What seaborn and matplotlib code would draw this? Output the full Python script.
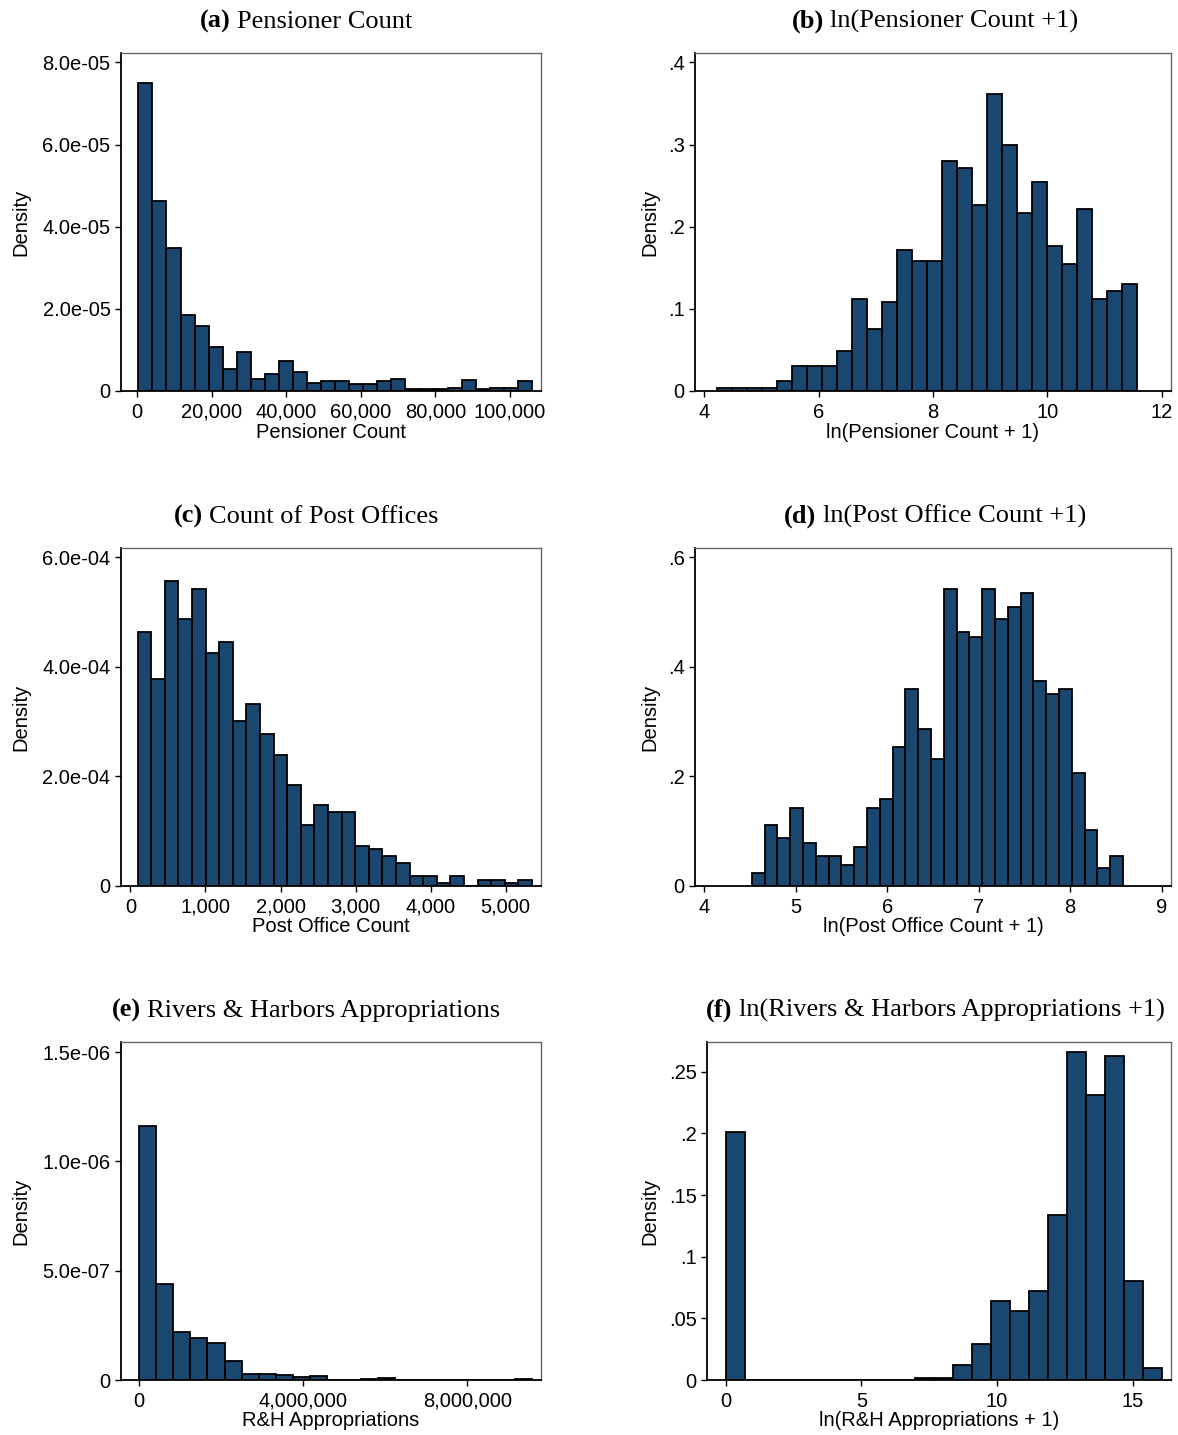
import numpy as np
import pandas as pd
import seaborn as sns
import matplotlib
matplotlib.use("Agg")
import matplotlib.pyplot as plt

# ---------------- data ----------------
# (a) Pensioner Count
a_start, a_width = 300.0, 3770.0
a_heights = [7.51e-05, 4.63e-05, 3.47e-05, 1.86e-05, 1.59e-05, 1.06e-05, 5.4e-06,
             9.6e-06, 2.9e-06, 4.2e-06, 7.4e-06, 4.7e-06, 2.0e-06, 2.4e-06,
             2.4e-06, 1.8e-06, 1.8e-06, 2.4e-06, 3.0e-06, 6e-07, 6e-07, 6e-07,
             8e-07, 2.8e-06, 6e-07, 8e-07, 8e-07, 2.4e-06]
a_xticks = [0, 20000, 40000, 60000, 80000, 100000]
a_xticklabels = ["0", "20,000", "40,000", "60,000", "80,000", "100,000"]
a_yticks = [0, 2e-05, 4e-05, 6e-05, 8e-05]
a_yticklabels = ["0", "2.0e-05", "4.0e-05", "6.0e-05", "8.0e-05"]

# (b) ln(Pensioner Count + 1)
b_start, b_width = 4.217, 0.2626
b_heights = [0.004, 0.004, 0.004, 0.004, 0.0126, 0.0305, 0.0305, 0.0305, 0.0488,
             0.112, 0.076, 0.108, 0.172, 0.158, 0.158, 0.280, 0.272, 0.226,
             0.362, 0.299, 0.217, 0.254, 0.176, 0.154, 0.222, 0.112, 0.122, 0.130]
b_xticks = [4, 6, 8, 10, 12]
b_xticklabels = ["4", "6", "8", "10", "12"]
b_yticks = [0, 0.1, 0.2, 0.3, 0.4]
b_yticklabels = ["0", ".1", ".2", ".3", ".4"]

# (c) Count of Post Offices
c_start, c_width = 95.0, 181.3
c_heights = [4.63e-04, 3.77e-04, 5.56e-04, 4.88e-04, 5.43e-04, 4.26e-04, 4.45e-04,
             3.02e-04, 3.33e-04, 2.78e-04, 2.40e-04, 1.85e-04, 1.11e-04, 1.48e-04,
             1.35e-04, 1.35e-04, 7.3e-05, 6.8e-05, 5.5e-05, 4.2e-05, 1.8e-05,
             1.8e-05, 6e-06, 1.8e-05, 0.0, 1.1e-05, 1.1e-05, 6e-06, 1.1e-05]
c_xticks = [0, 1000, 2000, 3000, 4000, 5000]
c_xticklabels = ["0", "1,000", "2,000", "3,000", "4,000", "5,000"]
c_yticks = [0, 2e-04, 4e-04, 6e-04]
c_yticklabels = ["0", "2.0e-04", "4.0e-04", "6.0e-04"]

# (d) ln(Post Office Count + 1)
d_start, d_width = 4.519, 0.140
d_heights = [0.023, 0.112, 0.087, 0.143, 0.079, 0.055, 0.055, 0.039, 0.071, 0.143,
             0.159, 0.254, 0.359, 0.287, 0.231, 0.542, 0.463, 0.454, 0.542, 0.487,
             0.510, 0.534, 0.375, 0.351, 0.359, 0.207, 0.102, 0.032, 0.055]
d_xticks = [4, 5, 6, 7, 8, 9]
d_xticklabels = ["4", "5", "6", "7", "8", "9"]
d_yticks = [0, 0.2, 0.4, 0.6]
d_yticklabels = ["0", ".2", ".4", ".6"]

# (e) Rivers & Harbors Appropriations
e_start, e_width = 0.0, 416600.0
e_heights = [1.161e-06, 4.41e-07, 2.18e-07, 1.94e-07, 1.67e-07, 8.6e-08, 2.9e-08,
             2.6e-08, 2.1e-08, 1.2e-08, 1.7e-08, 0.0, 0.0, 3e-09, 8e-09, 0.0, 0.0,
             0.0, 0.0, 0.0, 0.0, 0.0, 3e-09]
e_xticks = [0, 4000000, 8000000]
e_xticklabels = ["0", "4,000,000", "8,000,000"]
e_yticks = [0, 5e-07, 1e-06, 1.5e-06]
e_yticklabels = ["0", "5.0e-07", "1.0e-06", "1.5e-06"]

# (f) ln(R&H Appropriations + 1)
f_start, f_width = 0.0, 0.6987
f_heights = [0.201, 0, 0, 0, 0, 0, 0, 0, 0, 0, 0.0014, 0.0014, 0.0125, 0.029,
             0.064, 0.056, 0.072, 0.134, 0.266, 0.231, 0.263, 0.080, 0.0095]
f_xticks = [0, 5, 10, 15]
f_xticklabels = ["0", "5", "10", "15"]
f_yticks = [0, 0.05, 0.1, 0.15, 0.2, 0.25]
f_yticklabels = ["0", ".05", ".1", ".15", ".2", ".25"]

titles_bold = ["(a)", "(b)", "(c)", "(d)", "(e)", "(f)"]
titles_rest = ["Pensioner Count", "ln(Pensioner Count +1)", "Count of Post Offices",
               "ln(Post Office Count +1)", "Rivers & Harbors Appropriations",
               "ln(Rivers & Harbors Appropriations +1)"]
xlabels = ["Pensioner Count", "ln(Pensioner Count + 1)", "Post Office Count",
           "ln(Post Office Count + 1)", "R&H Appropriations",
           "ln(R&H Appropriations + 1)"]

# ---------------- styling ----------------
sns.set_theme(style="white")
plt.rcParams["font.family"] = ["Liberation Sans", "DejaVu Sans"]
plt.rcParams["text.color"] = "black"
plt.rcParams["axes.labelcolor"] = "black"
plt.rcParams["xtick.color"] = "black"
plt.rcParams["ytick.color"] = "black"

W, H = 1178, 1435
fig = plt.figure(figsize=(W / 100, H / 100), dpi=100)
fig.patch.set_facecolor("white")

BAR = "#1a476f"

# axes pixel boxes (left, top, right, bottom)
boxes = [(121, 53, 541, 391), (695, 53, 1171, 391),
         (121, 548, 541, 886), (695, 548, 1171, 886),
         (121, 1042, 541, 1380), (707, 1042, 1171, 1380)]
xlims = [(-4350, 108300), (3.835, 12.163), (-126, 5472), (3.897, 9.103),
         (-441000, 9.80e6), (-0.694, 16.41)]
ymaxs = [8.23e-05, 0.4114, 6.17e-04, 0.617, 1.546e-06, 0.2742]
title_cx = [306, 935, 306, 935, 306, 935]
title_base = [28, 28, 523, 523, 1017, 1017]

panels = [
    (a_start, a_width, a_heights, a_xticks, a_xticklabels, a_yticks, a_yticklabels),
    (b_start, b_width, b_heights, b_xticks, b_xticklabels, b_yticks, b_yticklabels),
    (c_start, c_width, c_heights, c_xticks, c_xticklabels, c_yticks, c_yticklabels),
    (d_start, d_width, d_heights, d_xticks, d_xticklabels, d_yticks, d_yticklabels),
    (e_start, e_width, e_heights, e_xticks, e_xticklabels, e_yticks, e_yticklabels),
    (f_start, f_width, f_heights, f_xticks, f_xticklabels, f_yticks, f_yticklabels),
]

FS = 14.5
for i, (start, width, heights, xt, xtl, yt, ytl) in enumerate(panels):
    l, t, r, b = boxes[i]
    ax = fig.add_axes([l / W, 1 - b / H, (r - l) / W, (b - t) / H])
    n = len(heights)
    edges = [float(start + width * k) for k in range(n + 1)]
    centers = [(edges[k] + edges[k + 1]) / 2 for k in range(n)]
    df = pd.DataFrame({"x": centers, "w": [float(h) for h in heights]})
    sns.histplot(data=df, x="x", weights="w", bins=edges, stat="count",
                 color=BAR, edgecolor="black", linewidth=1.3, alpha=1.0, ax=ax)
    ax.set_xlim(*xlims[i])
    ax.set_ylim(0, ymaxs[i])
    ax.set_xticks(xt)
    ax.set_xticklabels(xtl, fontsize=FS, color="black")
    ax.set_yticks(yt)
    ax.set_yticklabels(ytl, fontsize=FS, color="black")
    ax.tick_params(axis="both", which="major", direction="out", length=4.5,
                   width=1.0, color="black", bottom=True, left=True)
    ax.tick_params(axis="y", pad=3)
    ax.tick_params(axis="x", pad=4)
    for side in ["top", "right"]:
        ax.spines[side].set_color("#666666")
        ax.spines[side].set_linewidth(1.0)
    for side in ["left", "bottom"]:
        ax.spines[side].set_color("black")
        ax.spines[side].set_linewidth(1.3)
    ax.grid(False)
    ax.set_xlabel(xlabels[i], fontsize=FS, color="black")
    ax.set_ylabel("Density", fontsize=FS, color="black")
    ylab_x = 21 if i % 2 == 0 else 650
    ax.yaxis.set_label_coords((ylab_x - l) / (r - l), 0.5)
    ax.yaxis.label.set_va("center")
    ax.xaxis.set_label_coords(0.5, -(41) / (b - t))
    ax.xaxis.label.set_va("center")

# titles: bold panel letter + regular text, centred
fig.canvas.draw()
renderer = fig.canvas.get_renderer()
TFS = 19
for i in range(6):
    y = 1 - title_base[i] / H
    t1 = fig.text(0, y, titles_bold[i], fontsize=TFS, fontweight="bold",
                  family=["Liberation Serif", "DejaVu Serif"], va="baseline",
                  color="black")
    t2 = fig.text(0, y, titles_rest[i], fontsize=TFS,
                  family=["Liberation Serif", "DejaVu Serif"], va="baseline",
                  color="black")
    w1 = t1.get_window_extent(renderer).width
    w2 = t2.get_window_extent(renderer).width
    gap = 0.25 * TFS * 100 / 72
    total = w1 + gap + w2
    x0 = title_cx[i] - total / 2
    t1.set_x(x0 / W)
    t2.set_x((x0 + w1 + gap) / W)

fig.savefig("out.png", dpi=100, facecolor="white")
